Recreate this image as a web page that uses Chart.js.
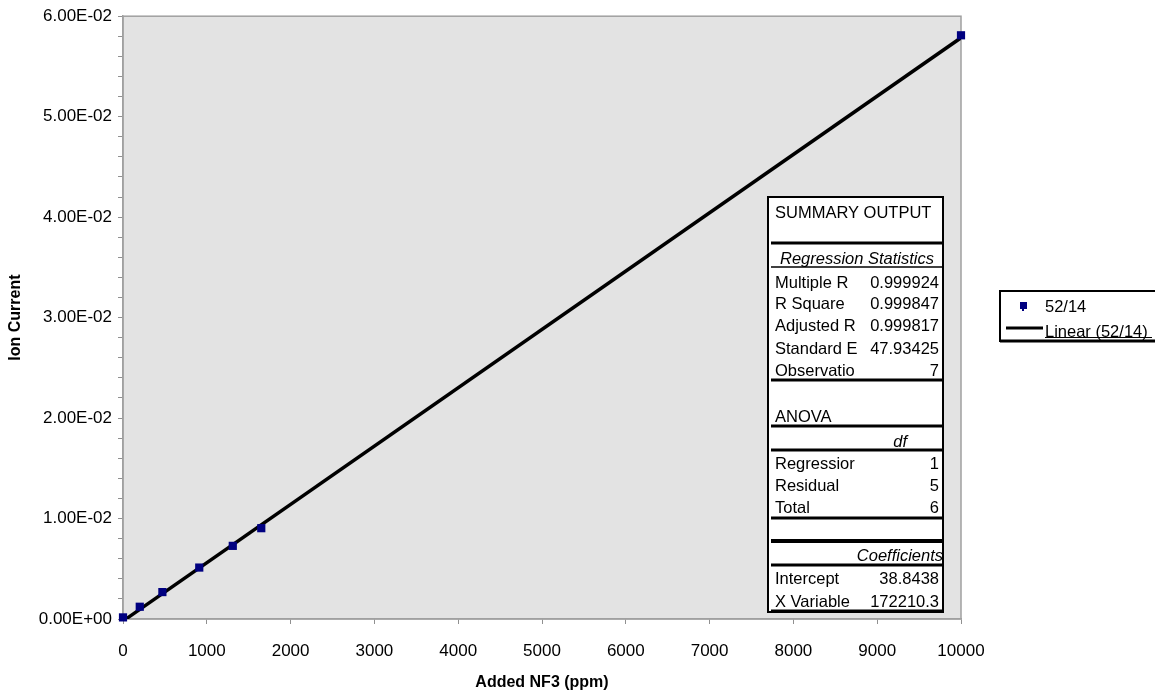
<!DOCTYPE html>
<html>
<head>
<meta charset="utf-8">
<script src="https://cdn.jsdelivr.net/npm/chart.js@4/dist/chart.umd.min.js"></script>
<style>
html,body{margin:0;padding:0;background:#fff;}
canvas{display:block;}
</style>
</head>
<body>
<canvas id="c" width="1155" height="692"></canvas>
<script>
// ---- data ----
const nf3Ppm = [0, 200, 470, 910, 1310, 1650, 10000];
const ionCurrent = [0.00016, 0.00122, 0.00268, 0.00512, 0.00728, 0.00904, 0.0581];
const trendX = [0, 10000];
const trendY = [-0.0002, 0.05785];
const seriesName = '52/14';
const trendName = 'Linear (52/14)';
const xTitle = 'Added NF3 (ppm)';
const yTitle = 'Ion Current';
const summaryLabels = ['Multiple R', 'R Square', 'Adjusted R', 'Standard E', 'Observatio'];
const summaryValues = ['0.999924', '0.999847', '0.999817', '47.93425', '7'];
const anovaLabels = ['Regressior', 'Residual', 'Total'];
const anovaDf = ['1', '5', '6'];
const coefLabels = ['Intercept', 'X Variable'];
const coefValues = ['38.8438', '172210.3'];

const FONT = '"Liberation Sans", Arial, sans-serif';

function fmtE(v) {
  if (Math.abs(v) < 1e-12) return '0.00E+00';
  const s = v.toExponential(2).split('e');
  let exp = parseInt(s[1], 10);
  const sign = exp < 0 ? '-' : '+';
  exp = Math.abs(exp);
  return s[0] + 'E' + sign + (exp < 10 ? '0' + exp : '' + exp);
}

const decor = {
  id: 'decor',
  beforeDraw(chart) {
    const a = chart.chartArea, ctx = chart.ctx;
    ctx.save();
    ctx.fillStyle = '#e3e3e3';
    ctx.fillRect(a.left, a.top, a.right - a.left, a.bottom - a.top);
    ctx.strokeStyle = '#a0a0a0';
    ctx.lineWidth = 1.5;
    ctx.strokeRect(a.left, a.top, a.right - a.left, a.bottom - a.top);
    ctx.restore();
  },
  afterDraw(chart) {
    const a = chart.chartArea, ctx = chart.ctx;
    ctx.save();
    // axis titles
    ctx.fillStyle = '#000';
    ctx.font = 'bold 16px ' + FONT;
    ctx.textAlign = 'center';
    ctx.textBaseline = 'middle';
    ctx.fillText(xTitle, (a.left + a.right) / 2, 683);
    ctx.save();
    ctx.translate(16, (a.top + a.bottom) / 2);
    ctx.rotate(-Math.PI / 2);
    ctx.fillText(yTitle, 0, 0);
    ctx.restore();

    // ---- summary table ----
    const L = 768, R = 943, T = 197, B = 612;
    ctx.fillStyle = '#fff';
    ctx.fillRect(L, T, R - L, B - T);
    ctx.strokeStyle = '#000';
    ctx.lineWidth = 2;
    ctx.strokeRect(L, T, R - L, B - T);
    const hl = (y, w) => {
      ctx.lineWidth = w;
      ctx.beginPath();
      ctx.moveTo(L + 3, y);
      ctx.lineTo(R, y);
      ctx.stroke();
    };
    hl(243, 3); hl(267, 1.5); hl(380, 3); hl(426, 3); hl(450, 3);
    hl(518, 3); hl(541, 4); hl(565, 3); hl(611, 3);

    ctx.fillStyle = '#000';
    ctx.textBaseline = 'middle';
    const tx = 775, vx = 939;
    const F = '16.5px ' + FONT, FI = 'italic 16.5px ' + FONT;
    ctx.font = F;
    ctx.textAlign = 'left';
    ctx.fillText('SUMMARY OUTPUT', tx, 213);
    ctx.font = FI;
    ctx.textAlign = 'center';
    ctx.fillText('Regression Statistics', 857, 259);
    const rowYs = [283, 304, 326, 349, 371];
    ctx.font = F;
    summaryLabels.forEach((lab, i) => {
      ctx.textAlign = 'left';
      ctx.fillText(lab, tx, rowYs[i]);
      ctx.textAlign = 'right';
      ctx.fillText(summaryValues[i], vx, rowYs[i]);
    });
    ctx.textAlign = 'left';
    ctx.fillText('ANOVA', tx, 417);
    ctx.font = FI;
    ctx.textAlign = 'right';
    ctx.fillText('df', 907, 442);
    ctx.font = F;
    const aY = [464, 486, 508];
    anovaLabels.forEach((lab, i) => {
      ctx.textAlign = 'left';
      ctx.fillText(lab, tx, aY[i]);
      ctx.textAlign = 'right';
      ctx.fillText(anovaDf[i], vx, aY[i]);
    });
    ctx.font = FI;
    ctx.textAlign = 'right';
    ctx.fillText('Coefficients', 943, 556);
    ctx.font = F;
    const cY = [579, 602];
    coefLabels.forEach((lab, i) => {
      ctx.textAlign = 'left';
      ctx.fillText(lab, tx, cY[i]);
      ctx.textAlign = 'right';
      ctx.fillText(coefValues[i], vx, cY[i]);
    });

    // ---- legend ----
    const lL = 1000, lT = 291, lB = 341;
    ctx.fillStyle = '#fff';
    ctx.fillRect(lL, lT, 1160 - lL, lB - lT);
    ctx.strokeStyle = '#000';
    ctx.lineWidth = 2;
    ctx.strokeRect(lL, lT, 1170 - lL, lB - lT);
    ctx.lineWidth = 3;
    ctx.beginPath(); ctx.moveTo(lL, lB); ctx.lineTo(1160, lB); ctx.stroke();
    ctx.fillStyle = '#000080';
    ctx.fillRect(1020, 302, 7, 7);
    ctx.fillRect(1022, 308, 2, 3);
    ctx.strokeStyle = '#000';
    ctx.lineWidth = 3;
    ctx.beginPath(); ctx.moveTo(1006, 328); ctx.lineTo(1043, 328); ctx.stroke();
    ctx.fillStyle = '#000';
    ctx.font = F;
    ctx.textAlign = 'left';
    ctx.textBaseline = 'middle';
    ctx.fillText(seriesName, 1045, 307);
    ctx.fillText(trendName, 1045, 332);
    ctx.lineWidth = 1;
    ctx.beginPath(); ctx.moveTo(1045, 337.5); ctx.lineTo(1152, 337.5); ctx.stroke();
    ctx.restore();
  }
};

new Chart(document.getElementById('c'), {
  type: 'scatter',
  data: {
    datasets: [
      {
        label: trendName,
        data: trendX.map((x, i) => ({x: x, y: trendY[i]})),
        showLine: true,
        borderColor: '#000',
        borderWidth: 3.5,
        pointRadius: 0,
        fill: false,
        order: 2
      },
      {
        label: seriesName,
        data: nf3Ppm.map((x, i) => ({x: x, y: ionCurrent[i]})),
        showLine: false,
        clip: false,
        pointStyle: 'rect',
        pointRadius: 5.8,
        backgroundColor: '#000080',
        borderColor: '#000080',
        borderWidth: 0,
        order: 1
      }
    ]
  },
  options: {
    responsive: false,
    animation: false,
    layout: {padding: {left: 0, top: 15, right: 194, bottom: 0}},
    plugins: {legend: {display: false}, tooltip: {enabled: false}},
    scales: {
      x: {
        type: 'linear',
        min: 0, max: 10000,
        afterFit(s) { s.height = 73; },
        ticks: {stepSize: 1000, font: {family: FONT, size: 17}, color: '#000', padding: 17, maxRotation: 0,
          callback: v => String(Math.round(v))},
        grid: {drawOnChartArea: false, drawTicks: true, tickLength: 5, color: '#909090'},
        border: {display: true, color: '#a0a0a0', width: 1.5}
      },
      y: {
        type: 'linear',
        min: 0, max: 0.06,
        afterFit(s) { s.width = 123; },
        ticks: {stepSize: 0.002, font: {family: FONT, size: 17}, color: '#000', padding: 6, autoSkip: false,
          callback: v => {
            const k = v * 100;
            return Math.abs(k - Math.round(k)) < 1e-6 ? fmtE(Math.round(k) / 100) : '';
          }},
        grid: {drawOnChartArea: false, drawTicks: true, tickLength: 5, color: '#909090'},
        border: {display: true, color: '#a0a0a0', width: 1.5}
      }
    }
  },
  plugins: [decor]
});
</script>
</body>
</html>
